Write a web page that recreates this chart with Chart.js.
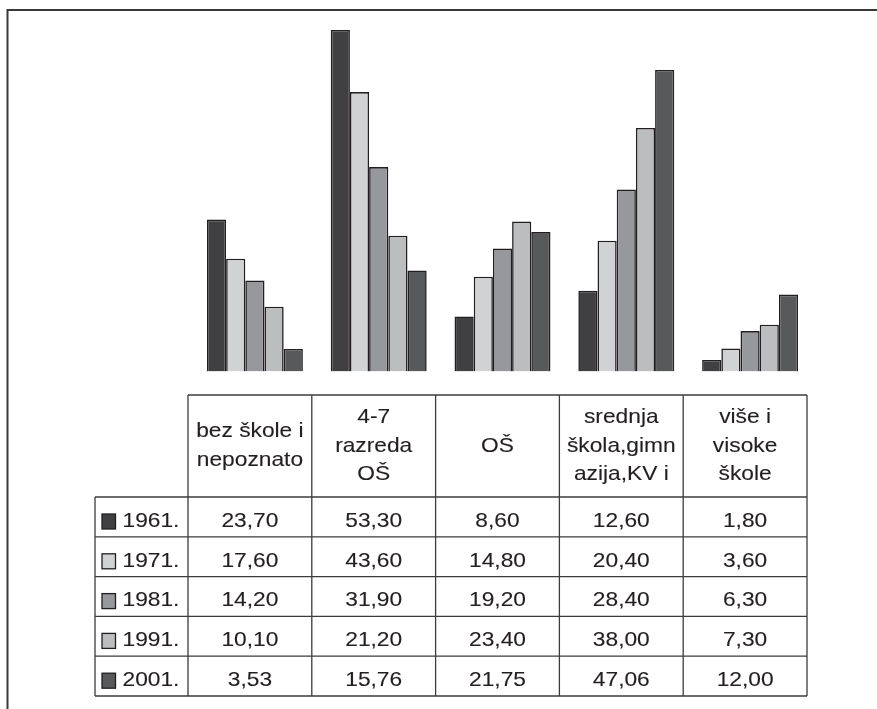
<!DOCTYPE html>
<html>
<head>
<meta charset="utf-8">
<script src="https://cdn.jsdelivr.net/npm/chart.js@4.4.1/dist/chart.umd.min.js"></script>
<style>
  html, body { margin: 0; padding: 0; background: #ffffff; }
  #wrap { width: 877px; height: 709px; }
</style>
</head>
<body>
<div id="wrap"><canvas id="c" width="877" height="709"></canvas></div>
<script>
// ---- data ----
const categories = [
  ['bez škole i', 'nepoznato'],
  ['4-7', 'razreda', 'OŠ'],
  ['OŠ'],
  ['srednja', 'škola,gimn', 'azija,KV i'],
  ['više i', 'visoke', 'škole']
];
const years = ['1961.', '1971.', '1981.', '1991.', '2001.'];
const v1961 = [23.70, 53.30, 8.60, 12.60, 1.80];
const v1971 = [17.60, 43.60, 14.80, 20.40, 3.60];
const v1981 = [14.20, 31.90, 19.20, 28.40, 6.30];
const v1991 = [10.10, 21.20, 23.40, 38.00, 7.30];
const v2001 = [3.53, 15.76, 21.75, 47.06, 12.00];
const seriesColors = ['#404042', '#d1d2d4', '#97989c', '#bcbdbf', '#58595b'];

const seriesValues = [v1961, v1971, v1981, v1991, v2001];

const fmt = v => v.toFixed(2).replace('.', ',');
const FONT = '19.8px "Liberation Sans", Arial, sans-serif';
const STRETCH = 1.15;

function stretchedText(ctx, str, x, y, align) {
  ctx.save();
  ctx.translate(x, y);
  ctx.scale(STRETCH, 1);
  ctx.textAlign = align;
  ctx.textBaseline = 'alphabetic';
  ctx.fillText(str, 0, 0);
  ctx.lineWidth = 0.12;
  ctx.strokeStyle = ctx.fillStyle;
  ctx.strokeText(str, 0, 0);
  ctx.restore();
}

const tablePlugin = {
  id: 'dataTable',
  afterDraw(chart) {
    const ctx = chart.ctx;
    const xs = chart.scales.x;
    const area = chart.chartArea;
    const n = categories.length;
    const cw = (area.right - area.left) / n;
    const colLeft = i => xs.getPixelForValue(i) - cw / 2 - 5;
    const tableLeft = 95;
    const headTop = 395;
    const headBottom = 497;
    const rowH = 39.8;
    const bottom = headBottom + rowH * years.length;
    const right = colLeft(n - 1) + cw;

    ctx.save();
    // outer frame (top and left)
    ctx.strokeStyle = '#383838';
    ctx.lineWidth = 2;
    ctx.beginPath();
    ctx.moveTo(7.5, 709);
    ctx.lineTo(7.5, 10);
    ctx.lineTo(877, 10);
    ctx.stroke();

    // table lines
    ctx.strokeStyle = '#3c3c3c';
    ctx.lineWidth = 1.3;
    ctx.beginPath();
    ctx.moveTo(colLeft(0), headTop);
    ctx.lineTo(right, headTop);
    for (let i = 0; i <= n; i++) {
      const x = i < n ? colLeft(i) : right;
      ctx.moveTo(x, headTop);
      ctx.lineTo(x, bottom);
    }
    ctx.moveTo(tableLeft, headBottom);
    ctx.lineTo(tableLeft, bottom);
    for (let r = 0; r <= years.length; r++) {
      const y = headBottom + r * rowH;
      ctx.moveTo(tableLeft, y);
      ctx.lineTo(right, y);
    }
    ctx.stroke();

    // header text
    ctx.fillStyle = '#231f20';
    ctx.font = FONT;
    const hc = (headTop + headBottom) / 2 - 1;
    categories.forEach((lines, i) => {
      const cx = colLeft(i) + cw / 2;
      lines.forEach((ln, k) => {
        const y = hc + (k - (lines.length - 1) / 2) * 28.5 + 6.5;
        stretchedText(ctx, ln, cx, y, 'center');
      });
    });

    // rows
    years.forEach((yr, r) => {
      const top = headBottom + r * rowH;
      ctx.fillStyle = seriesColors[r];
      ctx.fillRect(102, top + 17, 13.5, 15);
      ctx.strokeStyle = '#231f20';
      ctx.lineWidth = 1.3;
      ctx.strokeRect(102, top + 17, 13.5, 15);
      ctx.fillStyle = '#231f20';
      stretchedText(ctx, yr, 122.5, top + 29.7, 'left');
      seriesValues[r].forEach((v, i) => {
        const cx = colLeft(i) + cw / 2;
        stretchedText(ctx, fmt(v), cx, top + 29.7, 'center');
      });
    });
    ctx.restore();
  }
};

const datasets = years.map((yr, r) => ({
  label: yr,
  data: seriesValues[r],
  backgroundColor: seriesColors[r],
  borderColor: '#231f20',
  borderWidth: 1.6,
  categoryPercentage: 0.775,
  barPercentage: 1.0
}));

new Chart(document.getElementById('c'), {
  type: 'bar',
  data: { labels: categories.map(c => c.join(' ')), datasets },
  options: {
    responsive: false,
    animation: false,
    devicePixelRatio: 1,
    layout: { padding: { left: 193, right: 65, top: 19, bottom: 337.5 } },
    plugins: { legend: { display: false }, tooltip: { enabled: false } },
    scales: {
      x: { display: false, grid: { display: false } },
      y: { display: false, min: 0, max: 55, grid: { display: false } }
    }
  },
  plugins: [tablePlugin]
});
</script>
</body>
</html>
